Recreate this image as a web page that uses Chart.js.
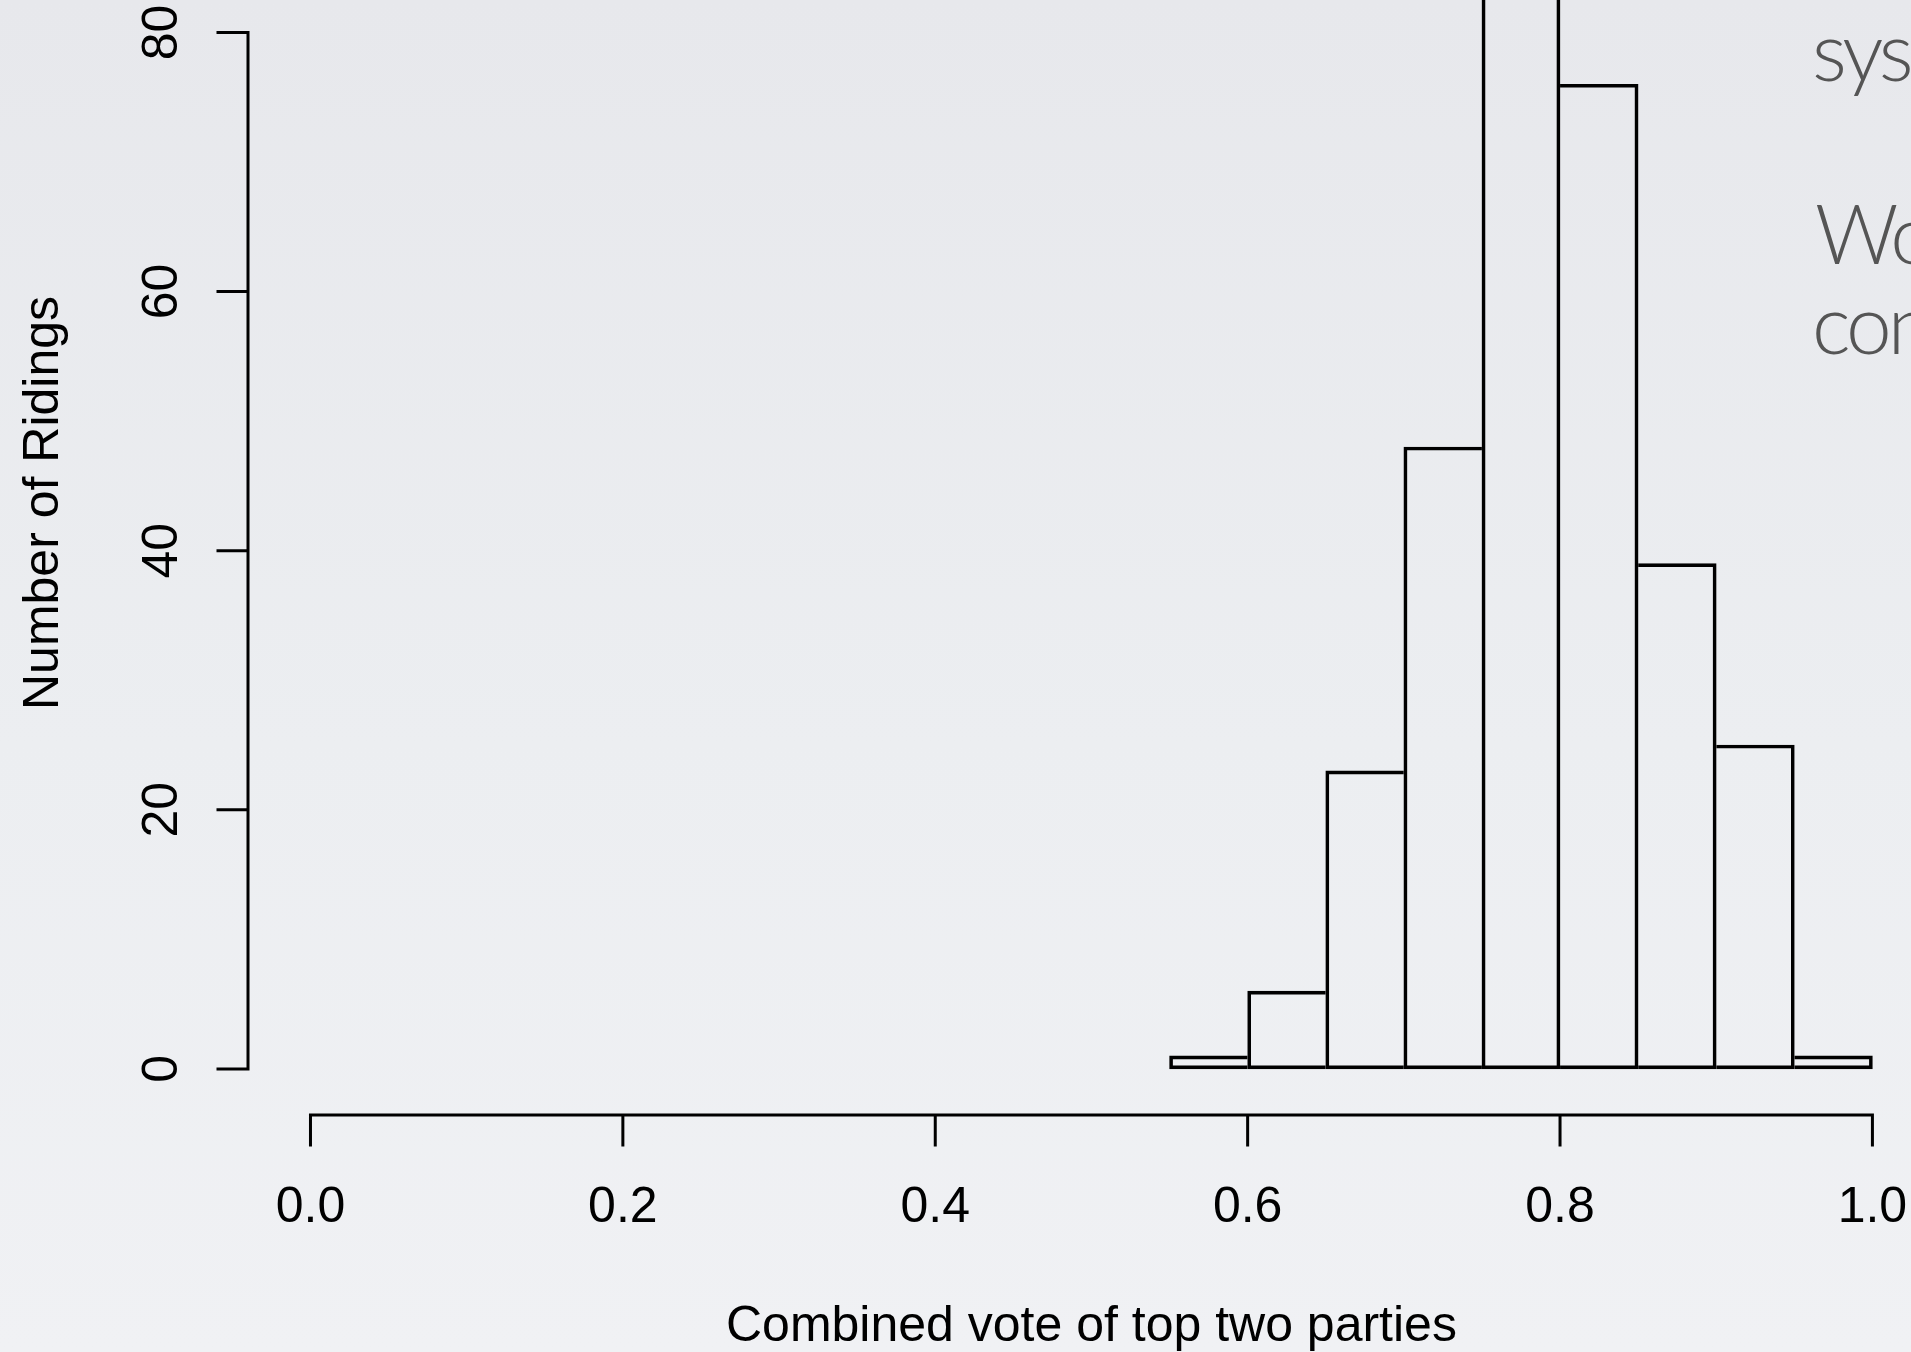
<!DOCTYPE html>
<html>
<head>
<meta charset="utf-8">
<script src="https://cdn.jsdelivr.net/npm/chart.js@4.4.1/dist/chart.umd.min.js"></script>
<style>
  html, body { margin: 0; padding: 0; width: 1911px; height: 1352px; overflow: hidden; }
  body { background: linear-gradient(180deg, #e7e8ec 0%, #eceef1 55%, #f0f1f4 100%); position: relative; }
  #wrap { position: absolute; left: 0; top: 0; width: 1911px; height: 1352px; }
  .slide { position: absolute; font-family: Lato, "Open Sans", sans-serif; font-weight: 300; font-size: 82px; color: #555555; white-space: nowrap; line-height: 1; letter-spacing: -4px; }
</style>
</head>
<body>
<div class="slide" id="t1" style="left:1812px; top:0px;">systems</div>
<div class="slide" id="t2" style="left:1815px; top:0px;">Would</div>
<div class="slide" id="t3" style="left:1812px; top:0px;">consider</div>
<div id="wrap"><canvas id="c" width="1911" height="1352"></canvas></div>
<script>
// ---- data ----
const binEdges = [0.55, 0.60, 0.65, 0.70, 0.75, 0.80, 0.85, 0.90, 0.95, 1.00];
const counts = [1, 6, 23, 48, 89, 76, 39, 25, 1];
const xTickValues = [0.0, 0.2, 0.4, 0.6, 0.8, 1.0];
const xTickLabels = ['0.0', '0.2', '0.4', '0.6', '0.8', '1.0'];
const yTickValues = [0, 20, 40, 60, 80];
const yTickLabels = ['0', '20', '40', '60', '80'];
const xTitle = 'Combined vote of top two parties';
const yTitle = 'Number of Ridings';

// place slide text lines by baseline
function placeBaseline(id, baseline) {
  const el = document.getElementById(id);
  el.style.top = (baseline - 82 * 0.80) + 'px';
}
placeBaseline('t1', 74);
placeBaseline('t2', 257);
placeBaseline('t3', 347);

const histData = counts.map((c, i) => ({ x: (binEdges[i] + binEdges[i + 1]) / 2, y: c }));
const LW = 3;
const FONT = '50px "Liberation Sans", Arial, Helvetica, sans-serif';

const rAxes = {
  id: 'rAxes',
  afterDraw(chart) {
    const ctx = chart.ctx;
    const xs = chart.scales.x, ys = chart.scales.y;
    const area = chart.chartArea;
    ctx.save();
    ctx.strokeStyle = '#000';
    ctx.fillStyle = '#000';
    ctx.lineWidth = LW;
    ctx.lineCap = 'square';
    // y axis
    const yx = area.left;
    ctx.beginPath();
    ctx.moveTo(yx, ys.getPixelForValue(yTickValues[0]));
    ctx.lineTo(yx, ys.getPixelForValue(yTickValues[yTickValues.length - 1]));
    yTickValues.forEach(v => {
      const py = ys.getPixelForValue(v);
      ctx.moveTo(yx, py);
      ctx.lineTo(yx - 30, py);
    });
    ctx.stroke();
    // x axis
    const xy = area.bottom;
    ctx.beginPath();
    ctx.moveTo(xs.getPixelForValue(xTickValues[0]), xy);
    ctx.lineTo(xs.getPixelForValue(xTickValues[xTickValues.length - 1]), xy);
    xTickValues.forEach(v => {
      const px = xs.getPixelForValue(v);
      ctx.moveTo(px, xy);
      ctx.lineTo(px, xy + 30);
    });
    ctx.stroke();
    // labels
    ctx.font = FONT;
    ctx.textBaseline = 'alphabetic';
    ctx.textAlign = 'center';
    xTickValues.forEach((v, i) => {
      ctx.fillText(xTickLabels[i], xs.getPixelForValue(v), xy + 107);
    });
    yTickValues.forEach((v, i) => {
      ctx.save();
      ctx.translate(yx - 71, ys.getPixelForValue(v));
      ctx.rotate(-Math.PI / 2);
      ctx.fillText(yTickLabels[i], 0, 0);
      ctx.restore();
    });
    // titles
    ctx.fillText(xTitle, (xs.getPixelForValue(0) + xs.getPixelForValue(1)) / 2, xy + 226);
    ctx.save();
    ctx.translate(58, 710);
    ctx.rotate(-Math.PI / 2);
    ctx.textAlign = 'left';
    ctx.fillText(yTitle, 0, 0);
    ctx.restore();
    ctx.restore();
  }
};

new Chart(document.getElementById('c'), {
  type: 'bar',
  data: {
    datasets: [{
      data: histData,
      backgroundColor: 'rgba(0,0,0,0)',
      borderColor: '#000',
      borderSkipped: false,
      barPercentage: 1,
      categoryPercentage: 1,
      borderWidth: (ctx) => {
        const i = ctx.dataIndex;
        const n = counts.length;
        const left = (i === 0 || counts[i] >= counts[i - 1]) ? LW : 0;
        const right = (i === n - 1 || counts[i] > counts[i + 1]) ? LW : 0;
        return { top: LW, bottom: LW, left: left, right: right };
      }
    }]
  },
  options: {
    responsive: false,
    devicePixelRatio: 1,
    animation: false,
    events: [],
    layout: { padding: { left: 248, right: 0, top: 0, bottom: 237 } },
    plugins: { legend: { display: false }, tooltip: { enabled: false }, title: { display: false } },
    scales: {
      x: {
        type: 'linear', display: false, offset: false, min: -0.04, max: 1.0247,
        afterBuildTicks: (scale) => { scale.ticks = xTickValues.map(v => ({ value: v })); }
      },
      y: { type: 'linear', display: false, min: -3.56, max: 82.5 }
    }
  },
  plugins: [rAxes]
});
</script>
</body>
</html>
